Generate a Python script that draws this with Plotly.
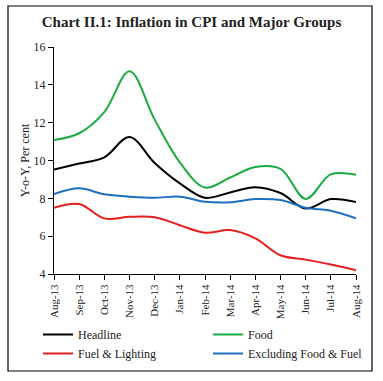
import plotly.graph_objects as go

months = ["Aug-13", "Sep-13", "Oct-13", "Nov-13", "Dec-13", "Jan-14", "Feb-14",
          "Mar-14", "Apr-14", "May-14", "Jun-14", "Jul-14", "Aug-14"]
headline = [9.52, 9.84, 10.17, 11.24, 9.87, 8.79, 8.03, 8.31, 8.59, 8.28, 7.46, 7.96, 7.80]
food = [11.08, 11.44, 12.56, 14.72, 12.16, 9.90, 8.57, 9.10, 9.66, 9.56, 7.97, 9.27, 9.24]
fuel = [7.50, 7.70, 6.94, 7.02, 7.00, 6.58, 6.18, 6.32, 5.88, 4.99, 4.76, 4.50, 4.20]
excl = [8.23, 8.53, 8.21, 8.09, 8.03, 8.09, 7.82, 7.79, 7.96, 7.91, 7.50, 7.34, 6.94]
yticks = [4, 6, 8, 10, 12, 14, 16]

FONT = "Liberation Serif"
series = [
    ("Headline", headline, "#000000", "legend"),
    ("Fuel & Lighting", fuel, "#e3201b", "legend"),
    ("Food", food, "#1aab40", "legend2"),
    ("Excluding Food & Fuel", excl, "#1f6fc1", "legend2"),
]

fig = go.Figure()
for name, vals, col, lg in series:
    fig.add_trace(go.Scatter(x=months, y=vals, name=name, mode="lines", legend=lg,
                             line=dict(color=col, width=2, shape="spline", smoothing=1.0)))

L, R, T, B = 54, 27, 47, 107
W, H = 383, 381
pw, ph = W - L - R, H - T - B

def px2x(p):
    return (p - L) / pw

def py2y(p):
    return (H - B - p) / ph

legfont = dict(family=FONT, size=12, color="#222")
fig.update_layout(
    width=W, height=H,
    margin=dict(l=L, r=R, t=T, b=B),
    paper_bgcolor="white", plot_bgcolor="white",
    font=dict(family=FONT, size=11, color="#222"),
    showlegend=True,
    legend=dict(x=px2x(38), y=py2y(320), xanchor="left", yanchor="top",
                itemwidth=30, font=legfont, tracegroupgap=0, bgcolor="rgba(0,0,0,0)"),
    legend2=dict(x=px2x(208), y=py2y(320), xanchor="left", yanchor="top",
                 itemwidth=30, font=legfont, tracegroupgap=0, bgcolor="rgba(0,0,0,0)"),
    xaxis=dict(type="category", range=[0, 12], showgrid=False, zeroline=False,
               showline=True, linecolor="#000", linewidth=1, automargin=False,
               ticks="outside", ticklen=5, tickcolor="#000", tickangle=-90,
               tickfont=dict(family=FONT, size=11, color="#222")),
    yaxis=dict(range=[4, 16], tickvals=yticks, showgrid=False, zeroline=False,
               showline=True, linecolor="#000", linewidth=1, automargin=False,
               ticks="outside", ticklen=5, tickcolor="#000",
               tickfont=dict(family=FONT, size=12, color="#222"),
               title=dict(text="Y-o-Y, Per cent", font=dict(family=FONT, size=12, color="#222"),
                          standoff=1)),
    title=dict(text="<b>Chart II.1: Inflation in CPI and Major Groups</b>",
               x=0.5, xref="container", xanchor="center",
               y=1 - 22 / H, yref="container", yanchor="middle",
               font=dict(family=FONT, size=15, color="#222")),
)

fig.add_shape(type="rect", xref="paper", yref="paper", layer="above",
              x0=px2x(8), x1=px2x(372), y0=py2y(371), y1=py2y(6),
              line=dict(color="#000", width=1.2), fillcolor="rgba(0,0,0,0)")

fig.write_html("out.html", config={"displayModeBar": False},
               post_script="document.body.style.margin='0';")
